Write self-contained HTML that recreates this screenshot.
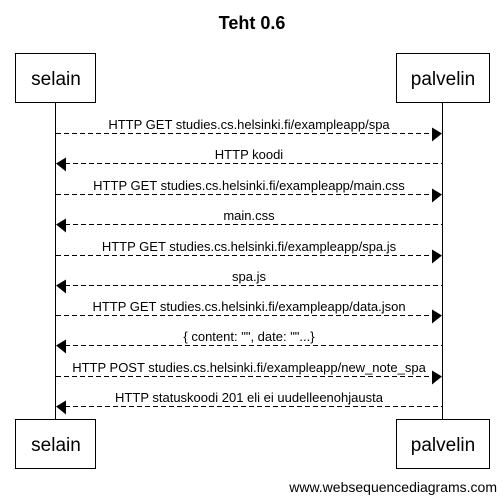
<!DOCTYPE html>
<html><head><meta charset="utf-8"><style>
html,body{margin:0;padding:0;background:#fff;}
svg{display:block;font-family:"Liberation Sans",Arial,sans-serif;}
</style></head><body>
<svg width="504" height="502" viewBox="0 0 504 502" xmlns="http://www.w3.org/2000/svg">
<text x="252" y="29" text-anchor="middle" font-size="18" font-weight="bold" fill="#000">Teht 0.6</text>
<g stroke="#000" stroke-width="1" fill="#fff">
<line x1="55.5" y1="102" x2="55.5" y2="419"/>
<line x1="442.5" y1="102" x2="442.5" y2="419"/>
<rect x="15.5" y="53.5" width="80" height="49"/>
<rect x="396.5" y="53.5" width="93" height="49"/>
<rect x="15.5" y="419.5" width="80" height="49"/>
<rect x="396.5" y="419.5" width="93" height="49"/>
</g>
<g font-size="19" text-anchor="middle" fill="#000">
<text x="56" y="85">selain</text>
<text x="443" y="85">palvelin</text>
<text x="56" y="451">selain</text>
<text x="443" y="451">palvelin</text>
</g>
<g stroke="#000" stroke-width="1" stroke-dasharray="5,3">
<line x1="56" y1="133.5" x2="433" y2="133.5"/>
<line x1="65" y1="163.5" x2="442" y2="163.5"/>
<line x1="56" y1="194.5" x2="433" y2="194.5"/>
<line x1="65" y1="224.5" x2="442" y2="224.5"/>
<line x1="56" y1="255.5" x2="433" y2="255.5"/>
<line x1="65" y1="285.5" x2="442" y2="285.5"/>
<line x1="56" y1="315.5" x2="433" y2="315.5"/>
<line x1="65" y1="345.5" x2="442" y2="345.5"/>
<line x1="56" y1="376.5" x2="433" y2="376.5"/>
<line x1="65" y1="406.5" x2="442" y2="406.5"/>
</g>
<g fill="#000">
<polygon points="432,127.5 442,133.5 432,141.5"/>
<polygon points="66,157.5 56,163.5 66,171.5"/>
<polygon points="432,188.5 442,194.5 432,202.5"/>
<polygon points="66,218.5 56,224.5 66,232.5"/>
<polygon points="432,249.5 442,255.5 432,263.5"/>
<polygon points="66,279.5 56,285.5 66,293.5"/>
<polygon points="432,309.5 442,315.5 432,323.5"/>
<polygon points="66,339.5 56,345.5 66,353.5"/>
<polygon points="432,370.5 442,376.5 432,384.5"/>
<polygon points="66,400.5 56,406.5 66,414.5"/>
</g>
<g font-size="13" text-anchor="middle" fill="#000">
<text x="249" y="129">HTTP GET studies.cs.helsinki.fi/exampleapp/spa</text>
<text x="249" y="159">HTTP koodi</text>
<text x="249" y="190">HTTP GET studies.cs.helsinki.fi/exampleapp/main.css</text>
<text x="249" y="220">main.css</text>
<text x="249" y="251">HTTP GET studies.cs.helsinki.fi/exampleapp/spa.js</text>
<text x="249" y="281">spa.js</text>
<text x="249" y="311">HTTP GET studies.cs.helsinki.fi/exampleapp/data.json</text>
<text x="249" y="341">{ content: "", date: ""...}</text>
<text x="249" y="372">HTTP POST studies.cs.helsinki.fi/exampleapp/new_note_spa</text>
<text x="249" y="402">HTTP statuskoodi 201 eli ei uudelleenohjausta</text>
</g>
<text x="497" y="492" text-anchor="end" font-size="14" fill="#000">www.websequencediagrams.com</text>
</svg>
</body></html>
